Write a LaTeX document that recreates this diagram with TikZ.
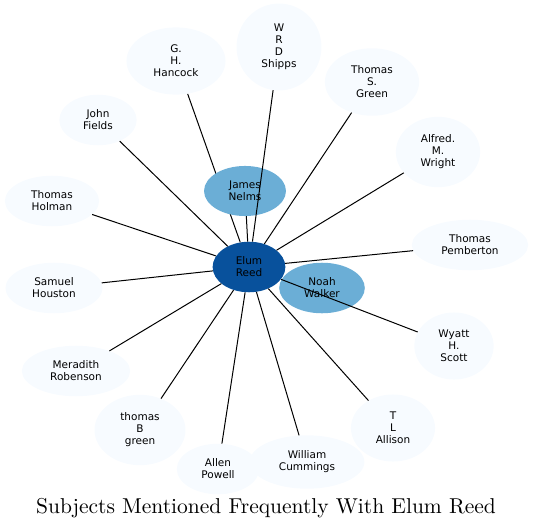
\documentclass[tikz,border=0pt]{standalone}
\usepackage{fontspec}
\newfontfamily\labelfont{DejaVu Sans}
\newfontfamily\titlefont{lmroman10-regular}[Extension=.otf]
\usetikzlibrary{shapes.geometric}
\definecolor{hubblue}{HTML}{08519C}
\definecolor{midblue}{HTML}{6BAED6}
\definecolor{paleblue}{HTML}{F7FBFF}
\begin{document}
\begin{tikzpicture}[x=1pt,y=-1pt,
  person/.style={ellipse,fill=paleblue,align=center,inner xsep=12.5pt,inner ysep=7.8pt,
    font=\labelfont\fontsize{10.5}{12}\selectfont},
  link/.style={line width=1pt}]
\useasboundingbox (0,0) rectangle (533,530);
% outer subjects
\node[person] (shipps) at (279,47) {W\\R\\D\\Shipps};
\node[person] (hancock) at (176,61) {G.\\H.\\Hancock};
\node[person] (tgreen) at (372,82) {Thomas\\S.\\Green};
\node[person] (fields) at (98,120) {John\\Fields};
\node[person] (wright) at (438,152) {Alfred.\\M.\\Wright};
\node[person] (holman) at (52,201) {Thomas\\Holman};
\node[person] (pemberton) at (470,245) {Thomas\\Pemberton};
\node[person] (houston) at (54,288) {Samuel\\Houston};
\node[person] (scott) at (454,346) {Wyatt\\H.\\Scott};
\node[person] (robenson) at (76,371) {Meradith\\Robenson};
\node[person] (bgreen) at (140,430) {thomas\\B\\green};
\node[person] (allison) at (393,428) {T\\L\\Allison};
\node[person] (cummings) at (307,462) {William\\Cummings};
\node[person] (powell) at (218,469) {Allen\\Powell};
% centre
\node[person,fill=midblue] (noah) at (322,288) {Noah\\Walker};
\node[person,fill=hubblue] (elum) at (249,267) {Elum\\Reed};
\draw[link] (elum) -- (hancock);
\node[person,fill=midblue] (james) at (245,191) {James\\Nelms};
\foreach \n in {james,shipps,tgreen,fields,wright,holman,pemberton,houston,
  scott,robenson,bgreen,allison,cummings,powell}
  \draw[link] (elum) -- (\n);
\node[font=\titlefont\fontsize{21.5}{26}\selectfont] (title) at (266,508) {Subjects Mentioned Frequently With Elum Reed};
\end{tikzpicture}
\end{document}
